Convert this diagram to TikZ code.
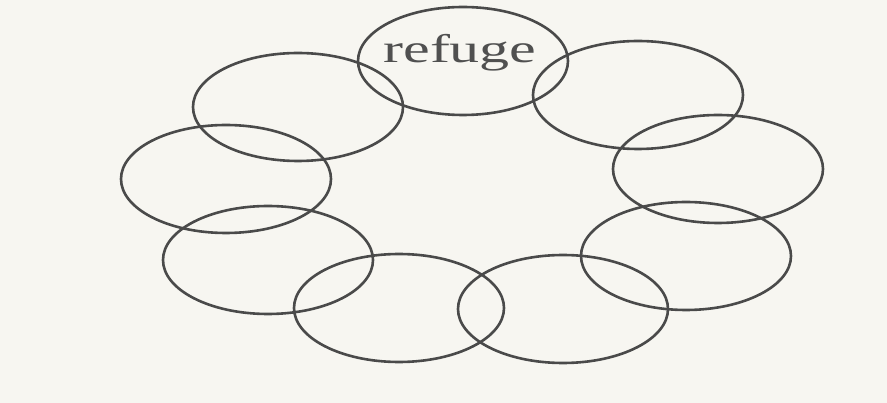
\documentclass[tikz,border=0pt]{standalone}
\usepackage{fontspec}
\setmainfont{Liberation Serif}
\usetikzlibrary{shapes.geometric}
\definecolor{paper}{HTML}{F7F6F1}
\definecolor{ink}{HTML}{4A4A4A}
\definecolor{txt}{HTML}{505050}
\begin{document}
\begin{tikzpicture}[x=1pt,y=-1pt,
  ring/.style={draw=ink, line width=2.6pt, ellipse, inner sep=0pt,
    minimum width=210pt, minimum height=108pt},
  lbl/.style={text=txt, font=\fontsize{40}{40}\selectfont, xscale=1.5, inner sep=0pt}]
\fill[paper] (0,0) rectangle (887,403);
\useasboundingbox (0,0) rectangle (887,403);
\node[ring] (refuge) at (463,61) {};
\node[ring] (ul) at (298,107) {};
\node[ring] (ur) at (638,95) {};
\node[ring] (l) at (226,179) {};
\node[ring] (r) at (718,169) {};
\node[ring] (ll) at (268,260) {};
\node[ring] (lr) at (686,256) {};
\node[ring] (bl) at (399,308) {};
\node[ring] (br) at (563,309) {};
\node[lbl, anchor=base] (t) at (460,63) {refuge};
\end{tikzpicture}
\end{document}
